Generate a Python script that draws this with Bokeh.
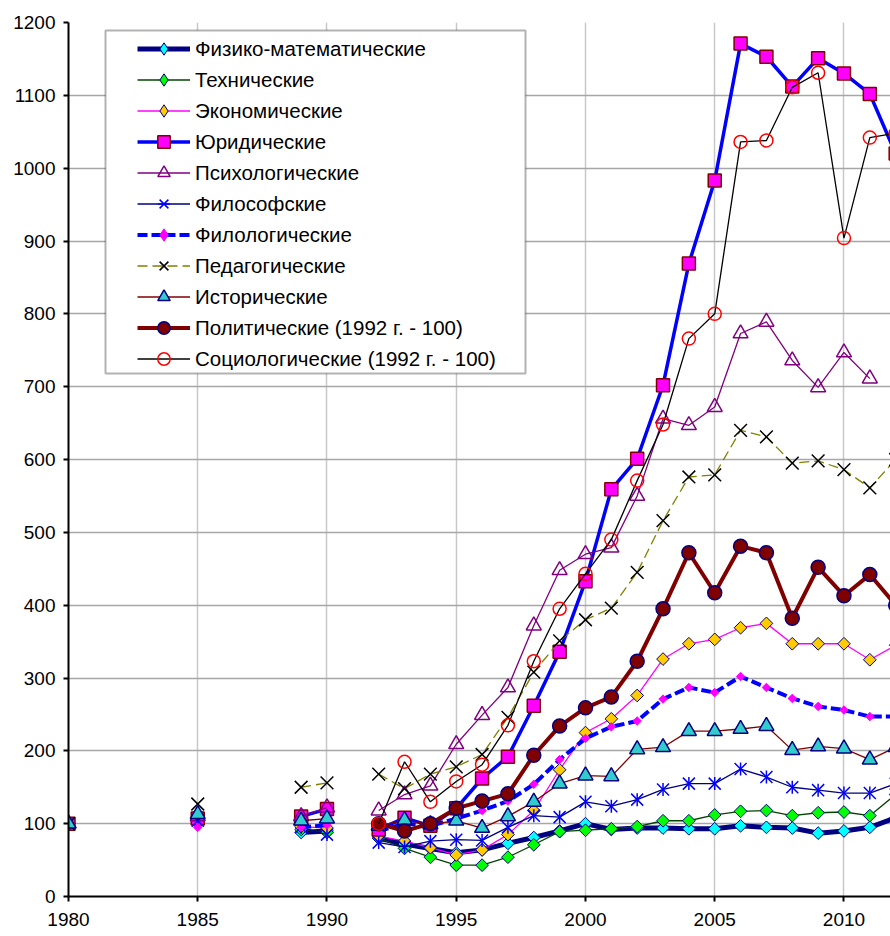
import math
import numpy as np
from bokeh.plotting import figure
from bokeh.models import Range1d, Legend, LegendItem, BoxAnnotation, FixedTicker
from bokeh.embed import file_html
from bokeh.resources import INLINE

# ---------------- data ----------------
YEARS = [1980, 1985, 1989, 1990, 1992, 1993, 1994, 1995, 1996, 1997, 1998, 1999,
         2000, 2001, 2002, 2003, 2004, 2005, 2006, 2007, 2008, 2009, 2010, 2011, 2012]

phys_math = [100, 102, 88, 90, 80, 72, 66, 60, 64, 73, 81, 90,
             100, 92, 94, 94, 93, 93, 97, 95, 94, 87, 90, 95, 108]
technical = [100, 103, 92, 88, 80, 66, 54, 43, 43, 54, 71, 89,
             91, 93, 96, 104, 104, 112, 117, 118, 111, 115, 116, 111, 140]
economic = [100, 101, 96, 94, 83, 76, 67, 57, 64, 85, 118, 174,
            225, 244, 276, 326, 347, 353, 369, 375, 347, 347, 347, 325, 345]
law = [100, 107, 110, 120, 92, 108, 97, 121, 162, 192, 262, 336,
       433, 559, 601, 702, 869, 983, 1171, 1153, 1112, 1151, 1130, 1102, 1020]
psychology = [100, 110, 110, 122, 118, 140, 152, 209, 249, 287, 372, 448,
              470, 479, 550, 656, 647, 672, 773, 789, 736, 699, 747, 711, None]
philosophy = [100, 104, 95, 85, 74, 68, 76, 78, 77, 95, 111, 109,
              130, 124, 133, 147, 155, 155, 175, 164, 150, 146, 142, 142, 155]
philology = [100, 95, 95, 98, 90, 100, 97, 107, 118, 131, 154, 188,
             217, 233, 241, 271, 287, 280, 302, 287, 272, 261, 256, 247, 247]
pedagogy = [100, 127, 150, 156, 168, 148, 168, 178, 195, 246, 308, 351,
            380, 396, 445, 516, 576, 579, 640, 631, 595, 598, 586, 561, 600]
history = [100, 113, 104, 107, 97, 105, 99, 104, 94, 110, 130, 155,
           166, 165, 202, 205, 227, 227, 230, 234, 201, 206, 203, 188, 205]
politics = [None, None, None, None, 100, 90, 100, 121, 131, 141, 194, 234,
            259, 274, 323, 395, 472, 417, 481, 472, 382, 452, 413, 442, 400]
sociology = [None, None, None, None, 100, 185, 130, 158, 181, 235, 323, 395,
             443, 490, 571, 648, 766, 800, 1036, 1038, 1111, 1131, 904, 1042, 1048]

LABELS = ["Физико-математические", "Технические", "Экономические", "Юридические",
          "Психологические", "Философские", "Филологические", "Педагогические",
          "Исторические", "Политические (1992 г. - 100)", "Социологические (1992 г. - 100)"]

X_TICKS = [1980, 1985, 1990, 1995, 2000, 2005, 2010]
Y_TICKS = [0, 100, 200, 300, 400, 500, 600, 700, 800, 900, 1000, 1100, 1200]


def with_gaps(years, vals):
    """Insert NaN where years are not consecutive so that lines break."""
    xs, ys = [], []
    for i, (yr, v) in enumerate(zip(years, vals)):
        if i > 0 and yr - years[i - 1] > 1:
            xs.append(float("nan"))
            ys.append(float("nan"))
        xs.append(yr)
        ys.append(float("nan") if v is None else v)
    return xs, ys


# ---------------- layout ----------------
W, H = 890, 936
BL, BR, BT, BB = 68, 0, 22, 40
X0, X1 = 1980, 2011.8
Y0, Y1 = 0, 1200
FONT = "Liberation Sans"

p = figure(width=W, height=H, output_backend="svg", toolbar_location=None,
           x_range=Range1d(X0, X1), y_range=Range1d(Y0, Y1),
           min_border_left=BL, min_border_right=BR, min_border_top=BT,
           min_border_bottom=BB)
p.outline_line_color = None
p.background_fill_color = "white"
p.border_fill_color = "white"

p.xaxis.ticker = FixedTicker(ticks=X_TICKS)
p.yaxis.ticker = FixedTicker(ticks=Y_TICKS)
for ax in (p.xaxis, p.yaxis):
    ax.axis_line_color = "black"
    ax.axis_line_width = 2
    ax.major_tick_line_color = "black"
    ax.major_tick_line_width = 2
    ax.major_tick_in = 0
    ax.major_tick_out = 5
    ax.minor_tick_line_color = None
    ax.major_label_text_font = FONT
    ax.major_label_text_font_size = "19px"
    ax.major_label_text_color = "black"
p.xaxis.major_label_standoff = 11
p.yaxis.major_label_standoff = 8

p.xgrid.grid_line_color = "#c8c8c8"
p.xgrid.grid_line_width = 1.5
p.ygrid.grid_line_color = "#a6a6a6"
p.ygrid.grid_line_width = 1.5

DIAMOND = math.pi / 4

styles = [
    dict(lc="#000080", lw=5, dash="solid",
         mk=[("square", 9, "#00FFFF", "#000080", 1, DIAMOND)], proxy=("diamond", "#00FFFF", "#000080")),
    dict(lc="#004400", lw=1.3, dash="solid",
         mk=[("square", 9, "#00FF00", "#000080", 1, DIAMOND)], proxy=("diamond", "#00FF00", "#000080")),
    dict(lc="#FF00FF", lw=1.3, dash="solid",
         mk=[("square", 9, "#FFCC00", "#000080", 1, DIAMOND)], proxy=("diamond", "#FFCC00", "#000080")),
    dict(lc="#0000FF", lw=3.5, dash="solid",
         mk=[("square", 13, "#FF00FF", "#800000", 1.5, 0)], proxy=None),
    dict(lc="#800080", lw=1.3, dash="solid",
         mk=[("triangle", 15, None, "#800080", 1.5, 0)], proxy=None),
    dict(lc="#000080", lw=1.3, dash="solid",
         mk=[("x", 17, None, "#0000FF", 1.5, 0), ("dash", 13, None, "#0000FF", 1.5, math.pi / 2)], proxy=None),
    dict(lc="#0000FF", lw=4, dash="10 4",
         mk=[("square", 6, "#FF00FF", "#FF00FF", 1, DIAMOND)], proxy=("diamond", "#FF00FF", "#FF00FF")),
    dict(lc="#808000", lw=1.3, dash="10 5",
         mk=[("x", 18, None, "black", 1.5, 0)], proxy=None),
    dict(lc="#800000", lw=1.3, dash="solid",
         mk=[("triangle", 15, "#33CCCC", "#000080", 1.5, 0)], proxy=None),
    dict(lc="#800000", lw=4, dash="solid",
         mk=[("circle", 14, "#800000", "#000080", 1.5, 0)], proxy=None),
    dict(lc="#000000", lw=1.3, dash="solid",
         mk=[("circle", 13, None, "#FF0000", 1.5, 0)], proxy=None),
]

SERIES = [phys_math, technical, economic, law, psychology, philosophy,
          philology, pedagogy, history, politics, sociology]

items = []
for label, vals, st in zip(LABELS, SERIES, styles):
    xs, ys = with_gaps(YEARS, vals)
    rends = []
    lr = p.line(xs, ys, line_color=st["lc"], line_width=st["lw"], line_dash=st["dash"])
    rends.append(lr)
    for (mk, sz, fc, mc, mw, ang) in st["mk"]:
        sr = p.scatter(xs, ys, marker=mk, size=sz, angle=ang,
                       fill_color=fc, fill_alpha=0 if fc is None else 1,
                       line_color=mc, line_width=mw)
        if st["proxy"] is None:
            rends.append(sr)
    if st["proxy"] is not None:
        pm, pfc, plc = st["proxy"]
        pr = p.scatter(xs, ys, marker=pm, size=10, fill_color=pfc, line_color=plc,
                       line_width=1, visible=False)
        rends.append(pr)
    items.append(LegendItem(label=label, renderers=rends))

# legend frame (white box with black border), placed from page pixel geometry
FR_L, FR_T, FR_W, FR_H = BL, BT, W - BL - BR, H - BT - BB


def px_to_x(px):
    return X0 + (px - FR_L) / FR_W * (X1 - X0)


def py_to_y(py):
    return Y0 + (FR_T + FR_H - py) / FR_H * (Y1 - Y0)


box = BoxAnnotation(left=px_to_x(105), right=px_to_x(525),
                    top=py_to_y(30), bottom=py_to_y(373),
                    fill_color="white", fill_alpha=1.0,
                    line_color="black", line_width=2)
p.add_layout(box)

legend = Legend(items=items, location=(69, 522))
legend.padding = 0
legend.spacing = 0
legend.glyph_width = 53
legend.glyph_height = 31
legend.label_height = 22
legend.label_standoff = 5
legend.label_text_font = FONT
legend.label_text_font_size = "20.5px"
legend.label_text_color = "black"
legend.border_line_color = None
legend.background_fill_alpha = 0
legend.inactive_fill_alpha = 0
p.add_layout(legend)

open("out.html", "w").write(file_html(p, INLINE))
